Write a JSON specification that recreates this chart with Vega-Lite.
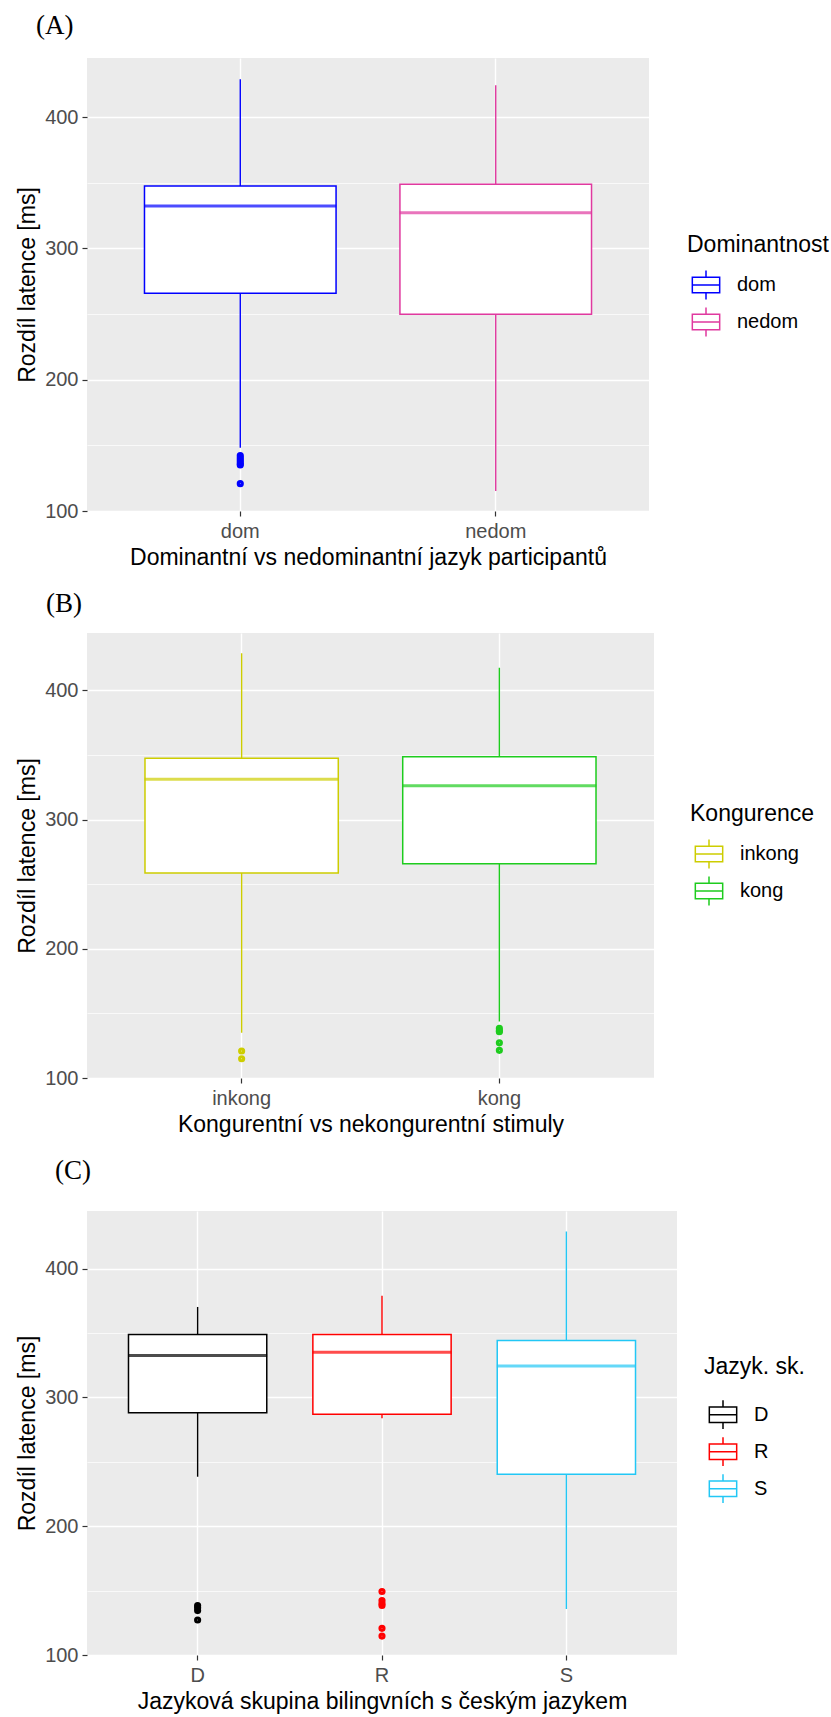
{
  "$schema": "https://vega.github.io/schema/vega-lite/v6.json",
  "background": "white",
  "padding": {"left": 16, "top": 12, "right": 5, "bottom": 5},
  "config": {
    "font": "Liberation Sans",
    "view": {"fill": "#EBEBEB", "stroke": null},
    "axis": {
      "domain": false,
      "labelFont": "Liberation Sans",
      "labelFontSize": 20,
      "labelColor": "#4D4D4D",
      "tickColor": "#333333",
      "tickSize": 5,
      "tickWidth": 1.2,
      "gridColor": "white",
      "gridWidth": 1.4,
      "titleFont": "Liberation Sans",
      "titleFontSize": 23,
      "titleFontWeight": "normal",
      "titleColor": "black"
    },
    "axisX": {"labelPadding": 5, "titlePadding": 5, "bandPosition": 0.5, "grid": true, "labelAngle": 0},
    "axisY": {"labelPadding": 4, "titlePadding": 5},
    "title": {"font": "Liberation Serif", "fontSize": 27, "fontWeight": "normal", "anchor": "start", "frame": "group", "color": "black"},
    "legend": {
      "titleFont": "Liberation Sans",
      "titleFontSize": 23,
      "titleFontWeight": "normal",
      "titleColor": "black",
      "labelFont": "Liberation Sans",
      "labelFontSize": 20,
      "labelColor": "black",
      "padding": 0,
      "rowPadding": 0,
      "titlePadding": 9,
      "labelOffset": 12
    }
  },
  "vconcat": [
    {
      "title": {"text": "(A)", "dx": -51, "offset": 18},
      "width": 562,
      "height": 453,
      "data": {"values": [
        {"g": "dom", "lo": 148.1, "q1": 265.8, "med": 332.3, "q3": 347.5, "hi": 428.8},
        {"g": "nedom", "lo": 115.2, "q1": 249.9, "med": 327.1, "q3": 348.8, "hi": 424.2}
      ]},
      "encoding": {
        "x": {"field": "g", "type": "nominal", "title": "Dominantní vs nedominantní jazyk participantů",
              "scale": {"paddingInner": 0.25, "paddingOuter": 0.225}},
        "stroke": {"field": "g", "type": "nominal", "title": "Dominantnost",
                   "scale": {"domain": ["dom", "nedom"], "range": ["#0000FF", "#E0399F"]},
                   "legend": {"orient": "none", "legendX": 600, "legendY": 176, "symbolType": "M-0.76,-0.43H0.76V0.43H-0.76Z M-0.76,0H0.76 M0,-0.43V-0.8 M0,0.43V0.8", "symbolSize": 1296, "symbolStrokeWidth": 1.5, "symbolFillColor": "white"}}
      },
      "layer": [
        {"mark": {"type": "rule", "strokeWidth": 1.4},
         "encoding": {"y": {"field": "lo", "type": "quantitative", "title": "Rozdíl latence [ms]",
                            "scale": {"domain": [100, 445], "nice": false, "zero": false},
                            "axis": {"values": [100, 150, 200, 250, 300, 350, 400],
                                     "labelExpr": "datum.value % 100 == 0 ? datum.label : ''",
                                     "gridWidth": {"condition": {"test": "datum.value % 100 != 0", "value": 0.7}, "value": 1.4},
                                     "tickOpacity": {"condition": {"test": "datum.value % 100 != 0", "value": 0}, "value": 1}}},
                      "y2": {"field": "hi"}}},
        {"mark": {"type": "bar", "fill": "white", "strokeWidth": 1.5},
         "encoding": {"y": {"field": "q1", "type": "quantitative", "title": "Rozdíl latence [ms]"}, "y2": {"field": "q3"}}},
        {"mark": {"type": "tick", "filled": false, "thickness": 1, "strokeWidth": 2, "size": 190},
         "encoding": {"y": {"field": "med", "type": "quantitative", "title": "Rozdíl latence [ms]"}}},
        {"data": {"values": [
          {"g": "dom", "v": 142.2}, {"g": "dom", "v": 140.5}, {"g": "dom", "v": 139.0},
          {"g": "dom", "v": 137.5}, {"g": "dom", "v": 136.0}, {"g": "dom", "v": 135.0}, {"g": "dom", "v": 120.8}
         ]},
         "mark": {"type": "point", "shape": "circle", "filled": false, "size": 10, "strokeWidth": 4, "opacity": 1},
         "encoding": {"y": {"field": "v", "type": "quantitative", "title": "Rozdíl latence [ms]"}}}
      ]
    },
    {
      "title": {"text": "(B)", "dx": -41, "offset": 15},
      "width": 567,
      "height": 445,
      "data": {"values": [
        {"g": "inkong", "lo": 135.0, "q1": 258.7, "med": 331.2, "q3": 347.4, "hi": 428.8},
        {"g": "kong", "lo": 143.7, "q1": 265.8, "med": 326.2, "q3": 348.7, "hi": 417.5}
      ]},
      "encoding": {
        "x": {"field": "g", "type": "nominal", "title": "Kongurentní vs nekongurentní stimuly",
              "scale": {"paddingInner": 0.25, "paddingOuter": 0.225}},
        "stroke": {"field": "g", "type": "nominal", "title": "Kongurence",
                   "scale": {"domain": ["inkong", "kong"], "range": ["#CDCD00", "#1ECC1E"]},
                   "legend": {"orient": "none", "legendX": 603, "legendY": 170, "symbolType": "M-0.76,-0.43H0.76V0.43H-0.76Z M-0.76,0H0.76 M0,-0.43V-0.8 M0,0.43V0.8", "symbolSize": 1296, "symbolStrokeWidth": 1.5, "symbolFillColor": "white"}}
      },
      "layer": [
        {"mark": {"type": "rule", "strokeWidth": 1.4},
         "encoding": {"y": {"field": "lo", "type": "quantitative", "title": "Rozdíl latence [ms]",
                            "scale": {"domain": [100, 444.4], "nice": false, "zero": false},
                            "axis": {"values": [100, 150, 200, 250, 300, 350, 400],
                                     "labelExpr": "datum.value % 100 == 0 ? datum.label : ''",
                                     "gridWidth": {"condition": {"test": "datum.value % 100 != 0", "value": 0.7}, "value": 1.4},
                                     "tickOpacity": {"condition": {"test": "datum.value % 100 != 0", "value": 0}, "value": 1}}},
                      "y2": {"field": "hi"}}},
        {"mark": {"type": "bar", "fill": "white", "strokeWidth": 1.5},
         "encoding": {"y": {"field": "q1", "type": "quantitative", "title": "Rozdíl latence [ms]"}, "y2": {"field": "q3"}}},
        {"mark": {"type": "tick", "filled": false, "thickness": 1, "strokeWidth": 2, "size": 192},
         "encoding": {"y": {"field": "med", "type": "quantitative", "title": "Rozdíl latence [ms]"}}},
        {"data": {"values": [
          {"g": "inkong", "v": 120.9}, {"g": "inkong", "v": 114.9},
          {"g": "kong", "v": 138.4}, {"g": "kong", "v": 136.5}, {"g": "kong", "v": 135.8},
          {"g": "kong", "v": 127.2}, {"g": "kong", "v": 121.4}
         ]},
         "mark": {"type": "point", "shape": "circle", "filled": false, "size": 10, "strokeWidth": 4, "opacity": 1},
         "encoding": {"y": {"field": "v", "type": "quantitative", "title": "Rozdíl latence [ms]"}}}
      ]
    },
    {
      "title": {"text": "(C)", "dx": -32, "offset": 26},
      "width": 590,
      "height": 444,
      "data": {"values": [
        {"g": "D", "lo": 238.4, "q1": 288.0, "med": 332.6, "q3": 348.8, "hi": 370.2},
        {"g": "R", "lo": 283.8, "q1": 287.0, "med": 335.0, "q3": 348.8, "hi": 378.9},
        {"g": "S", "lo": 135.8, "q1": 240.3, "med": 324.3, "q3": 344.1, "hi": 428.7}
      ]},
      "encoding": {
        "x": {"field": "g", "type": "nominal", "title": "Jazyková skupina bilingvních s českým jazykem",
              "scale": {"paddingInner": 0.25, "paddingOuter": 0.225}},
        "stroke": {"field": "g", "type": "nominal", "title": "Jazyk. sk.",
                   "scale": {"domain": ["D", "R", "S"], "range": ["#000000", "#FF0000", "#22C7F5"]},
                   "legend": {"orient": "none", "legendX": 617, "legendY": 145, "titlePadding": 16.7, "symbolType": "M-0.76,-0.43H0.76V0.43H-0.76Z M-0.76,0H0.76 M0,-0.43V-0.8 M0,0.43V0.8", "symbolSize": 1296, "symbolStrokeWidth": 1.5, "symbolFillColor": "white"}}
      },
      "layer": [
        {"mark": {"type": "rule", "strokeWidth": 1.4},
         "encoding": {"y": {"field": "lo", "type": "quantitative", "title": "Rozdíl latence [ms]",
                            "scale": {"domain": [100, 444.7], "nice": false, "zero": false},
                            "axis": {"values": [100, 150, 200, 250, 300, 350, 400],
                                     "labelExpr": "datum.value % 100 == 0 ? datum.label : ''",
                                     "gridWidth": {"condition": {"test": "datum.value % 100 != 0", "value": 0.7}, "value": 1.4},
                                     "tickOpacity": {"condition": {"test": "datum.value % 100 != 0", "value": 0}, "value": 1}}},
                      "y2": {"field": "hi"}}},
        {"mark": {"type": "bar", "fill": "white", "strokeWidth": 1.5},
         "encoding": {"y": {"field": "q1", "type": "quantitative", "title": "Rozdíl latence [ms]"}, "y2": {"field": "q3"}}},
        {"mark": {"type": "tick", "filled": false, "thickness": 1, "strokeWidth": 2, "size": 137},
         "encoding": {"y": {"field": "med", "type": "quantitative", "title": "Rozdíl latence [ms]"}}},
        {"data": {"values": [
          {"g": "D", "v": 138.4}, {"g": "D", "v": 136.6}, {"g": "D", "v": 134.5}, {"g": "D", "v": 127.2},
          {"g": "R", "v": 149.3}, {"g": "R", "v": 142.3}, {"g": "R", "v": 140.0}, {"g": "R", "v": 138.4},
          {"g": "R", "v": 120.7}, {"g": "R", "v": 114.7}
         ]},
         "mark": {"type": "point", "shape": "circle", "filled": false, "size": 10, "strokeWidth": 4, "opacity": 1},
         "encoding": {"y": {"field": "v", "type": "quantitative", "title": "Rozdíl latence [ms]"}}}
      ]
    }
  ],
  "spacing": 21,
  "resolve": {"scale": {"stroke": "independent", "x": "independent", "y": "independent"}, "legend": {"stroke": "independent"}}
}
